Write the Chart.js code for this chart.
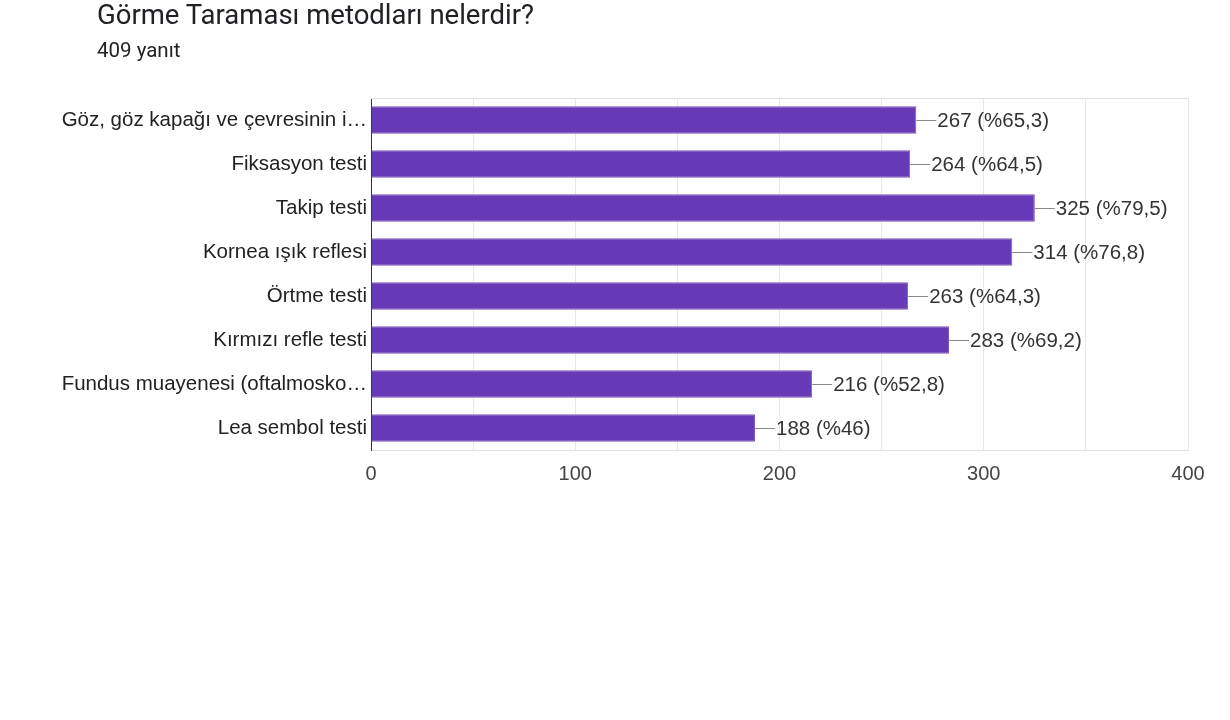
<!DOCTYPE html>
<html lang="tr">
<head>
<meta charset="utf-8">
<script src="https://cdn.jsdelivr.net/npm/chart.js@4.4.1/dist/chart.umd.min.js"></script>
<style>
  html, body { margin: 0; padding: 0; background: #fff; }
  #wrap { position: relative; width: 1230px; height: 720px; }
  #title { position: absolute; left: 97px; top: -2px; font: 27.5px Roboto, sans-serif; color: #202124; }
  #subtitle { position: absolute; left: 97px; top: 38px; font: 20.5px Roboto, sans-serif; color: #202124; }
  canvas { position: absolute; left: 0; top: 0; }
</style>
</head>
<body>
<div id="wrap">
  <canvas id="chart" width="1230" height="720"></canvas>
  <div id="title">Görme Taraması metodları nelerdir?</div>
  <div id="subtitle">409 yanıt</div>
</div>
<script>
const categories = [
  "Göz, göz kapağı ve çevresinin i…",
  "Fiksasyon testi",
  "Takip testi",
  "Kornea ışık reflesi",
  "Örtme testi",
  "Kırmızı refle testi",
  "Fundus muayenesi (oftalmosko…",
  "Lea sembol testi"
]
const counts = [267, 264, 325, 314, 263, 283, 216, 188]
const percents = ["65,3", "64,5", "79,5", "76,8", "64,3", "69,2", "52,8", "46"]
const xTicks = [0, 100, 200, 300, 400]

const fontFamily = "'Liberation Sans', Arial, sans-serif"
const labelFont = "20.5px " + fontFamily

// leader line + "count (%pct)" after each bar, plus the top frame line
const barLabels = {
  id: "barLabels",
  beforeDatasetsDraw(chart) {
    const { ctx, chartArea } = chart
    ctx.save()
    ctx.strokeStyle = "#e0e0e0"
    ctx.lineWidth = 1
    ctx.beginPath()
    ctx.moveTo(chartArea.left, chartArea.top + 0.5)
    ctx.lineTo(chartArea.right, chartArea.top + 0.5)
    ctx.stroke()
    ctx.restore()
  },
  afterDatasetsDraw(chart) {
    const { ctx } = chart
    const meta = chart.getDatasetMeta(0)
    ctx.save()
    ctx.font = labelFont
    ctx.textBaseline = "middle"
    ctx.textAlign = "left"
    meta.data.forEach((bar, i) => {
      const y = Math.round(bar.y) + 0.5
      ctx.strokeStyle = "#8a8a8a"
      ctx.lineWidth = 1
      ctx.beginPath()
      ctx.moveTo(bar.x, y)
      ctx.lineTo(bar.x + 20, y)
      ctx.stroke()
      ctx.fillStyle = "#333"
      ctx.fillText(counts[i] + " (%" + percents[i] + ")", bar.x + 21, bar.y + 1)
    })
    ctx.restore()
  }
}

new Chart(document.getElementById("chart"), {
  type: "bar",
  data: {
    labels: categories,
    datasets: [{
      data: counts,
      backgroundColor: "#673ab7",
      borderColor: "#7e57c2",
      borderWidth: 1,
      borderSkipped: "left",
      categoryPercentage: 1,
      barPercentage: 0.62
    }]
  },
  options: {
    indexAxis: "y",
    responsive: false,
    animation: false,
    events: [],
    layout: { padding: { top: 98, right: 42, left: 0, bottom: 0 } },
    plugins: {
      legend: { display: false },
      tooltip: { enabled: false }
    },
    scales: {
      x: {
        min: 0,
        max: 400,
        afterBuildTicks(scale) {
          const ticks = []
          for (let v = 0; v <= 400; v += 50) ticks.push({ value: v })
          scale.ticks = ticks
        },
        afterFit(scale) { scale.height = 270 },
        grid: { color: "#e8e8e8", drawTicks: false },
        border: { color: "#e0e0e0" },
        ticks: {
          padding: 12,
          color: "#444",
          font: { family: fontFamily, size: 20 },
          maxRotation: 0,
          autoSkip: false,
          callback: (v) => xTicks.includes(v) ? String(v) : ""
        }
      },
      y: {
        afterFit(scale) { scale.width = 371 },
        grid: { display: false, drawTicks: false },
        border: { color: "#333", width: 1 },
        ticks: {
          padding: 4,
          color: "#222",
          font: { family: fontFamily, size: 20.5 }
        }
      }
    }
  },
  plugins: [barLabels]
})
</script>
</body>
</html>
